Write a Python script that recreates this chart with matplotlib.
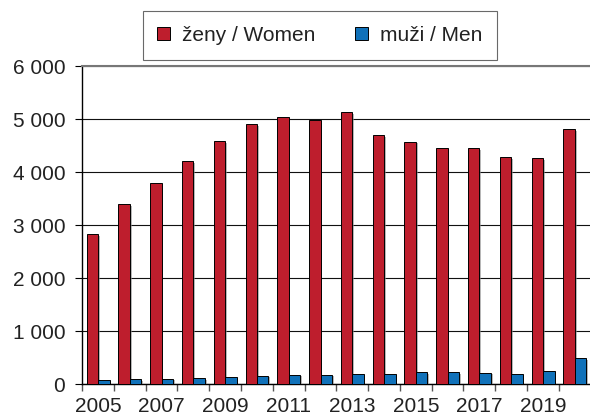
import matplotlib
matplotlib.use("Agg")
import matplotlib.pyplot as plt
import matplotlib.patheffects as pe
import numpy as np

plt.rcParams['font.family'] = ['Liberation Sans', 'DejaVu Sans']

years = list(range(2005, 2021))
women = [2830, 3390, 3800, 4210, 4580, 4900, 5030, 4990, 5130, 4700, 4570, 4460, 4450, 4280, 4265, 4805]
men = [75, 90, 100, 113, 126, 157, 176, 176, 182, 195, 218, 218, 215, 195, 250, 485]
yticks = [0, 1000, 2000, 3000, 4000, 5000, 6000]
ytick_labels = ["0", "1 000", "2 000", "3 000", "4 000", "5 000", "6 000"]
label_women = "ženy / Women"
label_men = "muži / Men"

red = "#BE1E2D"
blue = "#1071B9"

fig = plt.figure(figsize=(5.9, 4.18), dpi=100)
ax = fig.add_axes([0.139, 0.0813, 0.862, 0.7608])

x = np.arange(len(years))
w = 0.36
shadow = [pe.SimplePatchShadow(offset=(1.2, -1.2), shadow_rgbFace='#888888', alpha=0.6), pe.Normal()]
b1 = ax.bar(x - 0.175, women, width=w, color=red, edgecolor='black', linewidth=0.7,
            label=label_women, zorder=3, path_effects=shadow)
b2 = ax.bar(x + 0.185, men, width=w, color=blue, edgecolor='black', linewidth=0.7,
            label=label_men, zorder=3, path_effects=shadow)

ax.set_xlim(-0.5, len(years) - 0.5)
ax.set_ylim(0, 6000)
ax.set_yticks(yticks)
ax.set_yticklabels(ytick_labels)
ax.yaxis.grid(True, color='#111111', linewidth=0.8, zorder=0)
ax.set_axisbelow(True)

ax.set_xticks(x[::2])
ax.set_xticklabels([str(y) for y in years[::2]])
ax.set_xticks(np.arange(-0.5, len(years) - 0.4, 1), minor=True)
ax.tick_params(axis='x', which='major', length=0, pad=9, labelsize=15, colors='#222222')
ax.tick_params(axis='x', which='minor', length=5, width=1, color='#555555', direction='out')
ax.tick_params(axis='y', which='major', length=5, width=0.8, color='black', pad=7, labelsize=15, labelcolor='#222222')

ax.spines['right'].set_visible(False)
ax.spines['top'].set_color('#777777')
ax.spines['top'].set_linewidth(1.5)
ax.spines['left'].set_color('black')
ax.spines['left'].set_linewidth(1.0)
ax.spines['bottom'].set_color('black')
ax.spines['bottom'].set_linewidth(1.0)

leg = fig.legend(handles=[b1, b2], labels=[label_women, label_men], loc='center',
                 bbox_to_anchor=(0.542, 0.915), ncol=2, fontsize=15, frameon=True,
                 fancybox=False, edgecolor='#444444', handlelength=0.6, handleheight=0.6,
                 handletextpad=0.6, columnspacing=1.9, borderpad=0.7, borderaxespad=0)
leg.get_frame().set_linewidth(0.8)
for h in leg.legend_handles:
    h.set_path_effects([])
for t in leg.get_texts():
    t.set_color('#222222')

fig.savefig("out.png", dpi=100)
